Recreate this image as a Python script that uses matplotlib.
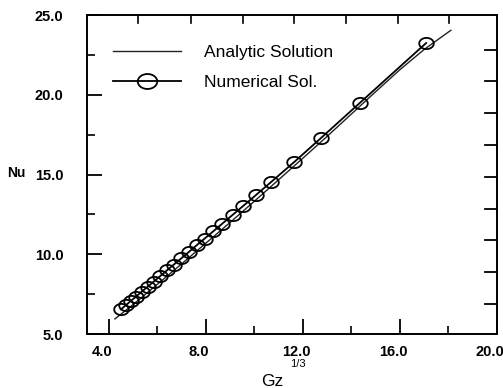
import matplotlib
matplotlib.use("Agg")
import matplotlib.pyplot as plt
import matplotlib.transforms as mtransforms
from matplotlib.path import Path
import numpy as np

# Numerical solution (circles)
num_gz13 = [4.50, 4.70, 4.90, 5.12, 5.35, 5.60, 5.85, 6.12, 6.40, 6.68, 6.98, 7.30,
            7.62, 7.95, 8.30, 8.68, 9.10, 9.55, 10.05, 10.70, 11.65, 12.75, 14.35, 17.08]
num_nu = [6.55, 6.81, 7.07, 7.35, 7.65, 7.97, 8.29, 8.64, 9.00, 9.36, 9.74, 10.15,
          10.57, 10.99, 11.44, 11.93, 12.47, 13.05, 13.70, 14.55, 15.80, 17.30, 19.50, 23.25]

# Analytic solution (line)
ana_gz13 = [4.25, 5.0, 6.0, 7.0, 8.0, 9.0, 10.0, 11.0, 12.0, 13.0, 14.0, 15.0, 16.0, 17.0, 18.1]
ana_nu = [5.95, 6.85, 8.12, 9.40, 10.70, 12.00, 13.33, 14.68, 16.03, 17.40, 18.80, 20.20, 21.58, 22.85, 24.05]

xticks = [4.0, 8.0, 12.0, 16.0, 20.0]
yticks = [5.0, 10.0, 15.0, 20.0, 25.0]
top_ticks = [5.21, 7.37, 9.53, 11.65, 13.77, 15.92, 18.02]
right_ticks = [6.9, 8.88, 10.87, 12.86, 14.85, 16.84, 18.85, 20.85, 22.83]

plt.rcParams['font.family'] = ['Liberation Sans', 'DejaVu Sans']

fig = plt.figure(figsize=(5.03, 3.88), dpi=100)
ax = fig.add_axes([0.173, 0.139, 0.815, 0.822])

# elliptical marker
t = np.linspace(0, 2 * np.pi, 60)
ell = Path(np.column_stack([1.3 * np.cos(t), np.sin(t)]), closed=True)

ax.plot(ana_gz13, ana_nu, color='#222222', lw=1.0, label='Analytic Solution')
ax.plot(num_gz13, num_nu, color='black', lw=1.3, marker=ell, markersize=10.5,
        markerfacecolor='none', markeredgecolor='black', markeredgewidth=1.3,
        label='Numerical Sol.')

ax.set_xlim(3.1, 20.0)
ax.set_ylim(5.0, 25.0)
ax.set_xticks(xticks)
ax.set_xticklabels([f"{v:.1f}" for v in xticks])
ax.set_yticks(yticks)
ax.set_yticklabels([f"{v:.1f}" for v in yticks])
ax.set_xticks([6, 10, 14, 18], minor=True)
ax.set_yticks([7.5, 12.5, 17.5, 22.5], minor=True)

ax.tick_params(axis='both', which='major', direction='in', length=11, width=1.3,
               labelsize=10.5, top=False, right=False)
ax.tick_params(axis='both', which='minor', direction='in', length=6, width=1.2,
               top=False, right=False)
ax.tick_params(axis='y', which='major', pad=17)
ax.tick_params(axis='x', which='major', pad=8)
for lab in ax.get_xticklabels() + ax.get_yticklabels():
    lab.set_fontweight('bold')
offset = mtransforms.ScaledTranslation(-7 / 100, 0, fig.dpi_scale_trans)
for lab in ax.get_xticklabels():
    lab.set_transform(lab.get_transform() + offset)

# extra ticks on top and right (different spacing)
for xv in top_ticks:
    ax.plot([xv, xv], [1.0, 0.975], transform=ax.get_xaxis_transform(),
            color='black', lw=1.2, clip_on=False)
for yv in right_ticks:
    ax.plot([1.0, 0.97], [yv, yv], transform=ax.get_yaxis_transform(),
            color='black', lw=1.3, clip_on=False)

for s in ax.spines.values():
    s.set_linewidth(1.4)

leg = ax.legend(loc='upper left', frameon=False, fontsize=12.5,
                bbox_to_anchor=(0.025, 0.955), handlelength=3.95, handletextpad=1.3,
                labelspacing=0.85)
leg.legend_handles[1].set_markersize(14)

fig.text(7 / 503, 1 - 173 / 388, 'Nu', fontsize=10, fontweight='bold', va='center', ha='left')
fig.text(272 / 503, 1 - 382 / 388, 'Gz', fontsize=12.5, va='center', ha='center')
fig.text(298 / 503, 1 - 364 / 388, '1/3', fontsize=8, va='center', ha='center')

fig.savefig('out.png', dpi=100)
